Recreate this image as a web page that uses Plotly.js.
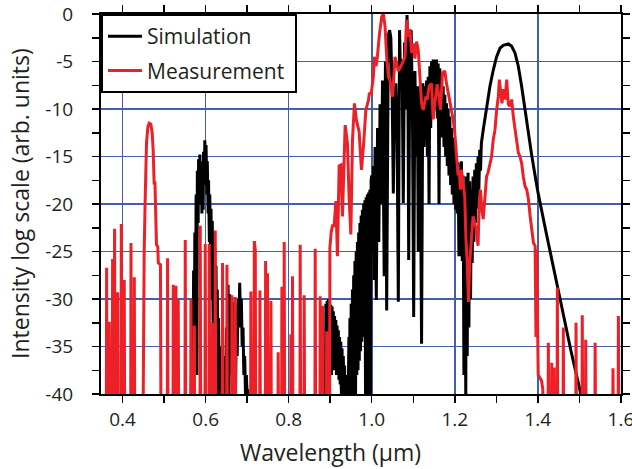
<!DOCTYPE html>
<html>
<head>
<meta charset="utf-8">
<script src="https://cdn.plot.ly/plotly-3.0.1.min.js"></script>
<style>html,body{margin:0;padding:0;background:#fff;}#chart{width:632px;height:469px;}</style>
</head>
<body>
<div id="chart"></div>
<script>
// ---- Simulation (black) : wavelength (µm), intensity (log scale) ----
const simWavelength = [
  0.564,0.568,0.570,0.571,0.573,0.574,0.576,0.577,0.579,0.580,
  0.582,0.583,0.585,0.586,0.588,0.589,0.591,0.592,0.594,0.595,
  0.597,0.598,0.600,0.601,0.603,0.604,0.606,0.607,0.609,0.610,
  0.612,0.613,0.615,0.616,0.618,0.619,0.621,0.622,0.624,0.625,
  0.627,0.628,0.630,0.631,0.633,0.634,0.636,0.638,0.640,0.642,
  0.644,0.646,0.648,0.650,0.652,0.654,0.656,0.658,0.660,0.662,
  0.664,0.666,0.668,0.670,0.672,0.674,0.676,0.678,0.680,0.682,
  0.684,0.686,0.688,0.690,0.692,0.694,0.696,0.698,0.700,0.702,
  0.705,0.885,
  0.8890,0.8895,0.8910,0.8925,0.8940,0.8955,0.8970,0.8985,0.9000,0.9015,
  0.9030,0.9045,0.9060,0.9075,0.9090,0.9105,0.9120,0.9135,0.9150,0.9165,
  0.9180,0.9195,0.9210,0.9225,0.9240,0.9255,0.9270,0.9285,0.9300,0.9315,
  0.9330,0.9345,0.9360,0.9375,0.9390,0.9405,0.9420,0.9435,0.9450,0.9460,
  0.9475,0.9490,0.9505,0.9520,0.9535,0.9550,0.9565,0.9580,0.9595,0.9610,
  0.9625,0.9640,0.9655,0.9670,0.9685,0.9700,0.9715,0.9730,0.9745,0.9760,
  0.9775,0.9790,0.9805,0.9820,0.9835,0.9850,0.9865,0.9880,0.9895,0.9910,
  0.9925,0.9940,0.9955,0.9970,0.9985,
  1.000,1.002,1.004,1.006,1.008,1.011,1.014,1.017,1.020,1.023,
  1.026,1.030,1.033,1.036,1.040,1.043,1.046,1.049,1.052,1.055,
  1.058,1.061,1.064,1.067,1.070,1.073,1.076,1.079,1.082,1.085,
  1.087,1.089,1.092,1.095,1.098,1.101,1.104,1.107,1.110,1.112,
  1.116,1.120,1.123,1.126,1.128,1.130,1.132,1.134,1.136,1.138,
  1.140,1.142,1.144,1.146,1.148,1.150,1.152,1.154,1.156,1.158,
  1.160,1.162,1.164,1.166,1.168,1.170,1.172,1.174,1.176,1.178,
  1.180,1.182,1.184,1.186,1.188,1.190,1.192,1.194,1.196,1.198,
  1.200,1.202,1.204,1.206,1.208,1.210,1.212,1.214,1.216,1.218,
  1.220,1.222,1.224,1.2265,1.228,1.230,1.232,1.234,1.236,1.238,
  1.240,1.242,1.244,1.246,1.248,1.250,1.252,1.254,1.256,1.258,
  1.260,1.262,1.264,
  1.2685,1.2766,1.2847,1.2927,1.3008,1.3089,1.3169,1.329,1.337,1.345,
  1.353,1.361,1.369,1.377,1.385,1.393,1.400,1.420,1.440,1.460,
  1.480,1.500,1.510
];
const simIntensity = [
  -45,-30,-36,-27,-33,-23,-30,-19,-38,-16.5,
  -22,-15.3,-20,-14.8,-19,-15.5,-21,-17,-20.6,-14.5,
  -18,-13.3,-17,-13.8,-19,-15.5,-21,-17.5,-24,-19,
  -27,-20.5,-30,-21.8,-33,-23,-36,-24.5,-38,-26.5,
  -40,-29,-40,-32,-40,-35,-40,-37,-40,-37.5,
  -40,-36,-40,-33,-40,-28.5,-40,-29.5,-38,-30,
  -36,-30.3,-37,-30.5,-40,-31.5,-36,-30,-33,-28.3,
  -32,-30,-35,-33,-38,-36,-40,-38,-40,-39.5,
  -45,-45,
  -40,-30.5,-40,-30.2,-38,-30.0,-39,-30.2,-37,-30.6,
  -38,-30.8,-36,-31.3,-37.5,-31.8,-37,-32.2,-38,-32.8,
  -37.5,-33.3,-38.5,-34,-39,-34.5,-40.5,-35.2,-40.5,-36,
  -40.5,-37,-41,-38,-41,-39,-41,-40,-34,-41,
  -32,-41,-30.5,-41,-29,-41,-27.5,-41,-26,-40,
  -25,-38,-24,-37.5,-23,-36.5,-22,-35.5,-21.2,-34.5,
  -20.6,-34,-20,-33,-19.6,-40,-19.3,-31.5,-19,-40,
  -18.8,-30.5,-18.5,-40,-17.5,
  -17,-25,-16,-28,-14,-30.1,-12,-24,-9.5,-20,
  -7,-27.6,-5,-31.2,-2.2,-1.7,-2.5,-8,-18.9,-10,
  -7.3,-12,-30.3,-1.7,-8,-4.8,-19.9,-3,-10,-0.1,
  -6,-25.9,-2,-1.7,-10,-31.9,-6,-15,-7.6,-25,
  -7.6,-34.7,-7.3,-14,-7.6,-12,-7.0,-15,-6.6,-20,
  -5.5,-12,-5,-10,-4.8,-9.5,-4.8,-10,-4.8,-11,
  -5.2,-20,-5.7,-12,-6.5,-13,-7.6,-14,-8.5,-15,
  -9.4,-16,-10,-17,-10.8,-18,-12,-19,-13,-20,
  -14.5,-20.6,-15.3,-21,-15.6,-25.5,-16.4,-25.5,-15.5,-26,
  -17,-38,-20,-40,-17.1,-36,-16.7,-33,-17.6,-30,
  -18.5,-26.2,-17.1,-24,-16.4,-22,-15.7,-20.5,-15,-18.5,
  -14.3,-16.5,-13.6,
  -12.2,-9.7,-7.6,-5.9,-4.5,-3.6,-3.3,-3.15,-3.4,-4.1,
  -5.5,-7.6,-10.1,-12.5,-14.8,-16.9,-18.7,-23,-27.2,-31.4,
  -35.5,-39.3,-41.5
];

// ---- Measurement (red) ----
const measWavelength = [
  0.350,0.3608,0.3615,0.3628,0.3673,0.368,0.3692,0.3752,0.3759,0.3770,
  0.3800,0.3807,0.3818,0.3873,0.388,0.3892,0.3962,0.3969,0.3980,0.4033,
  0.404,0.4052,0.4195,0.4202,0.4214,0.4275,0.4282,0.4294,
  0.4490,0.4500,0.452,0.4544,0.4576,0.4608,0.464,0.468,0.4712,0.4736,
  0.476,0.478,0.4795,0.4816,0.4848,0.486,0.4912,0.4925,
  0.5076,0.5083,0.5095,0.5213,0.522,0.5235,0.5278,0.5285,0.530,0.5333,
  0.534,0.5352,0.5502,0.5509,0.5521,0.5639,0.5646,0.5658,0.5719,0.5726,
  0.5738,0.5863,0.587,0.5882,0.5983,0.599,0.6002,0.6080,0.6087,0.6099,
  0.6159,0.6166,0.6178,0.6224,0.6231,0.6243,0.6400,0.6407,0.6419,0.6506,
  0.6513,0.6525,0.6626,0.6633,0.6645,0.6705,0.6712,0.6724,0.7083,0.709,
  0.7102,0.7165,0.7172,0.7195,0.7207,0.7300,0.7307,0.7319,0.7437,0.7444,
  0.7456,0.7483,0.749,0.7502,0.7565,0.7572,0.7584,0.7740,0.7747,0.7759,
  0.7829,0.7836,0.7848,0.7885,0.7892,0.7904,0.8046,0.8053,0.8065,0.8084,
  0.8091,0.8103,0.8270,0.8277,0.8289,0.8366,0.8373,0.8385,0.8631,0.8638,
  0.8650,0.8751,0.8758,0.8770,0.8806,0.8813,0.8825,0.8908,0.8915,0.8927,
  0.8985,0.8992,
  0.9023,0.9054,0.9095,0.9136,0.9174,0.9215,0.9256,0.9295,0.936,0.9415,
  0.9456,0.9497,0.9536,0.9584,0.9632,0.9697,0.9752,0.98,0.9858,0.992,
  0.9944,0.9984,1.004,1.0064,1.0104,1.0136,1.0184,1.024,1.028,1.032,
  1.036,1.04,1.044,1.0504,1.056,1.06,1.064,1.0704,1.076,1.08,
  1.084,1.088,1.092,1.096,1.1,1.104,1.108,1.112,1.116,1.12,
  1.124,1.1304,1.1336,1.1384,1.144,1.148,1.152,1.1576,1.1616,1.1656,
  1.1704,1.176,1.18,1.1864,1.192,1.196,1.2,1.204,1.208,1.2105,
  1.2137,1.216,1.22,1.224,1.2266,1.23,1.233,1.236,1.24,1.244,
  1.248,1.252,1.256,1.259,1.262,1.265,1.2685,1.2726,1.2766,1.28,
  1.2847,1.2887,1.2927,1.2968,1.3008,1.3048,1.3073,1.3105,1.3137,1.317,
  1.321,1.325,1.329,1.333,1.337,1.341,1.345,1.349,1.353,1.357,
  1.361,1.365,1.369,1.3734,1.3774,1.3815,1.3855,1.3895,1.3935,1.3955,
  1.397,1.399,1.401,1.405,1.409,1.412,1.414,
  1.4246,1.4253,1.4265,1.4327,1.4334,1.4346,1.4383,1.439,1.4402,1.4463,
  1.447,1.4482,1.4607,1.4614,1.4626,1.4913,1.492,1.4932,1.5063,1.507,
  1.5082,1.5146,1.5153,1.5165,1.5373,1.538,1.5392,1.5803,1.581,1.5822,
  1.5933,1.594,1.5952,1.61
];
const measIntensity = [
  -45,-45,-26.7,-45,-45,-32.4,-45,-45,-25.8,-45,
  -45,-22.6,-45,-45,-29.3,-45,-45,-22.1,-45,-45,
  -28,-45,-45,-24.1,-45,-45,-27.7,-45,
  -45,-36,-25,-19.5,-13.6,-11.9,-11.5,-11.6,-12.5,-14.3,
  -17.8,-17.8,-22,-24.3,-24.5,-26.2,-26.4,-45,
  -45,-25.7,-45,-45,-28.5,-45,-45,-28.6,-45,-45,
  -30,-45,-45,-23.8,-45,-45,-30,-45,-45,-32.8,
  -45,-45,-22.3,-45,-45,-24.2,-45,-45,-24.2,-45,
  -45,-32.5,-45,-45,-22.8,-45,-45,-26.2,-45,-45,
  -26.4,-45,-45,-29.6,-45,-45,-29.8,-45,-45,-29.2,
  -45,-45,-23.9,-24.8,-45,-45,-29.1,-45,-45,-26,
  -45,-45,-27.3,-45,-45,-30.2,-45,-45,-35.6,-45,
  -45,-28.7,-45,-45,-24.0,-45,-45,-33.7,-45,-45,
  -27.6,-45,-45,-24.3,-45,-45,-29.6,-45,-45,-24.7,
  -45,-45,-29.7,-45,-45,-30.7,-45,-45,-33.4,-45,
  -45,-24.6,
  -23,-22.3,-22.3,-19.7,-25.5,-16.0,-15.9,-21.3,-11.7,-13.6,
  -19.5,-23.2,-13.3,-9.4,-11.2,-12.4,-16.4,-14.0,-10.1,-9.1,
  -8.3,-8.5,-6.6,-4.5,-5.5,-4.5,-2.2,-0.3,0,-1.3,
  -4.5,-6.6,-7.0,-8.7,-4.5,-5.3,-6.0,-5.5,-4.8,-4.5,
  -0.6,-2.4,-1.6,-4.1,-3.1,-4.7,-2.9,-3.8,-6.6,-9.4,
  -10.1,-8.7,-9.0,-7.6,-7.3,-11.1,-9.4,-7.4,-8.6,-10.1,
  -6.2,-6.0,-7.3,-8.7,-10.1,-11.1,-12.5,-14.5,-17,-16.4,
  -18.5,-16.4,-18.1,-19.2,-23.4,-26.2,-30.3,-26.2,-23.7,-21.3,
  -22,-22.7,-24.4,-19.8,-18.5,-20.5,-21.6,-19.2,-17.1,-16.7,
  -15.7,-15.0,-13.2,-12.2,-10.1,-8.7,-6.9,-8.0,-9.4,-7.9,
  -9.0,-6.9,-9.5,-9.7,-9.0,-10.8,-12.2,-13.2,-14.6,-15.0,
  -15.7,-17.1,-18.1,-18.5,-19.5,-21.3,-22.7,-24.1,-24.4,-34,
  -24.8,-31,-38,-38.3,-38.6,-39.5,-45,
  -45,-34.6,-45,-45,-36.7,-45,-45,-37.2,-45,-45,
  -28.8,-45,-45,-33,-45,-45,-32.5,-45,-45,-31.7,
  -45,-45,-34.3,-45,-45,-34.6,-45,-45,-37.3,-45,
  -45,-31.8,-45,-45
];

// ---- Axis ticks and text ----
const yTickVals = [0,-5,-10,-15,-20,-25,-30,-35,-40];
const yTickText = ['0','-5','-10','-15','-20','-25','-30','-35','-40'];
const xTickVals = [0.4,0.6,0.8,1.0,1.2,1.4,1.6];
const xTickText = ['0.4','0.6','0.8','1.0','1.2','1.4','1.6'];
const seriesNames = ['Simulation', 'Measurement'];
const xTitle = 'Wavelength (µm)';
const yTitle = 'Intensity log scale (arb. units)';

const gridBlue = 'rgb(68,94,174)';
const textColor = '#231f20';
const FONT = 'Open Sans, sans-serif';
const NB = '\u00a0\u00a0\u00a0';

const traces = [
  {x: simWavelength, y: simIntensity, mode:'lines', name:seriesNames[0], legendgroup:'a',
   line:{color:'#000000', width:3}},
  {x: measWavelength, y: measIntensity, mode:'lines', name:seriesNames[1] + '\u00a0', legendgroup:'b',
   line:{color:'rgb(237,32,39)', width:3}}
];

const axisCommon = {
  ticks:'outside', ticklen:7, tickwidth:1.5, tickcolor:'#000',
  showline:true, linewidth:2.2, linecolor:'#000', mirror:'ticks',
  showgrid:true, gridcolor:gridBlue, gridwidth:1.6, zeroline:false,
  tickfont:{family:FONT, size:19, color:textColor}
};

const layout = {
  width:632, height:469,
  margin:{l:101, r:11, t:14, b:75, pad:0},
  paper_bgcolor:'#ffffff', plot_bgcolor:'#ffffff',
  font:{family:FONT, color:textColor, size:19},
  showlegend:true,
  legend:{x:0, y:1, xanchor:'left', yanchor:'top', bgcolor:'#ffffff',
          bordercolor:'#000', borderwidth:2, font:{family:FONT, size:21, color:textColor},
          traceorder:'grouped', tracegroupgap:4, itemwidth:34},
  xaxis: Object.assign({}, axisCommon, {
    range:[0.348, 1.6003], tickmode:'array', tickvals:xTickVals, ticktext:xTickText,
    ticklabeloverflow:'allow',
    minor:{dtick:0.1, tick0:0, ticks:'outside', ticklen:7, tickwidth:1.5, tickcolor:'#000', showgrid:false}
  }),
  yaxis: Object.assign({}, axisCommon, {
    range:[-40, 0], tickmode:'array', tickvals:yTickVals,
    ticktext: yTickText.map(t => t + NB),
    minor:{dtick:2.5, tick0:0, ticks:'outside', ticklen:7, tickwidth:1.5, tickcolor:'#000', showgrid:false}
  }),
  annotations:[
    {text:xTitle, xref:'paper', yref:'paper', x:0.442, y:0, xanchor:'center', yanchor:'top',
     yshift:-40, showarrow:false, font:{family:FONT, size:23, color:textColor}},
    {text:yTitle, xref:'paper', yref:'paper', x:0, y:0.5, xanchor:'center', yanchor:'middle',
     xshift:-81, textangle:-90, showarrow:false, font:{family:FONT, size:23, color:textColor}}
  ]
};

Plotly.newPlot('chart', traces, layout, {displayModeBar:false, staticPlot:true});
</script>
</body>
</html>
